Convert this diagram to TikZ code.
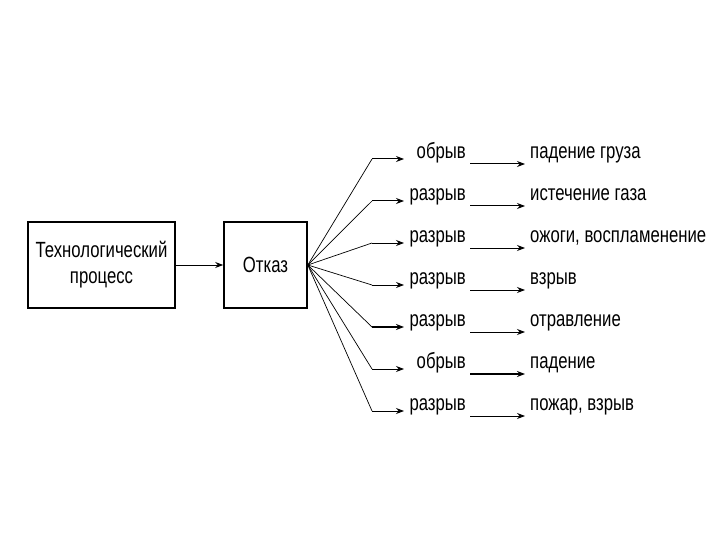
\documentclass[tikz,border=0pt]{standalone}
\usepackage{fontspec}
\setmainfont{Liberation Sans}[FakeStretch=0.76]
\usetikzlibrary{arrows.meta}

\begin{document}
\begin{tikzpicture}[x=1pt, y=-1pt, font=\fontsize{22}{26}\selectfont,
  box/.style={draw, line width=1.6pt, minimum height=86pt, align=center},
  cause/.style={anchor=south east, inner xsep=4pt, inner ysep=5pt, text depth=0pt},
  effect/.style={anchor=south west, inner xsep=5pt, inner ysep=5pt, text depth=0pt},
  arr/.style={-{Stealth[length=8pt,width=6pt]}, line width=1pt},
  fan/.style={line width=0.7pt}]
\useasboundingbox (0,0) rectangle (720,540);
% blocks
\node[box, minimum width=147pt] (tp) at (101.5,265) {Технологический\\процесс};
\node[box, minimum width=83pt] (otk) at (265.5,265) {Отказ};
\draw[arr] (tp) -- (otk);
% bends and arrow tips of the fan
\coordinate (k1) at (372,159); \coordinate (t1) at (404,159);
\coordinate (k2) at (372,201); \coordinate (t2) at (404,201);
\coordinate (k3) at (372,243); \coordinate (t3) at (404,243);
\coordinate (k4) at (372,285); \coordinate (t4) at (404,285);
\coordinate (k5) at (372,327); \coordinate (t5) at (404,327);
\coordinate (k6) at (372,369); \coordinate (t6) at (404,369);
\coordinate (k7) at (372,411); \coordinate (t7) at (404,411);
% causes
\node[cause] (c1) at (470,164) {обрыв};
\node[cause] (c2) at (470,206) {разрыв};
\node[cause] (c3) at (470,248) {разрыв};
\node[cause] (c4) at (470,290) {разрыв};
\node[cause] (c5) at (470,332) {разрыв};
\node[cause] (c6) at (470,374) {обрыв};
\node[cause] (c7) at (470,416) {разрыв};
% effects
\node[effect] (e1) at (525,164) {падение груза};
\node[effect] (e2) at (525,206) {истечение газа};
\node[effect] (e3) at (525,248) {ожоги, воспламенение};
\node[effect] (e4) at (525,290) {взрыв};
\node[effect] (e5) at (525,332) {отравление};
\node[effect] (e6) at (525,374) {падение};
\node[effect] (e7) at (525,416) {пожар, взрыв};
\path[fan]
(otk.east) edge (k1)
(otk.east) edge (k2)
(otk.east) edge (k3)
(otk.east) edge (k4)
(otk.east) edge (k5)
(otk.east) edge (k6)
(otk.east) edge (k7);
\path[arr]
(k1) edge (t1)
(k2) edge (t2)
(k3) edge (t3)
(k4) edge (t4)
(k5) edge[line width=1.6pt] (t5)
(k6) edge (t6)
(k7) edge (t7);
\path[arr]
(c1.south east) edge (e1.south west)
(c2.south east) edge (e2.south west)
(c3.south east) edge (e3.south west)
(c4.south east) edge (e4.south west)
(c5.south east) edge (e5.south west)
(c6.south east) edge[line width=1.6pt] (e6.south west)
(c7.south east) edge (e7.south west);
\end{tikzpicture}
\end{document}
